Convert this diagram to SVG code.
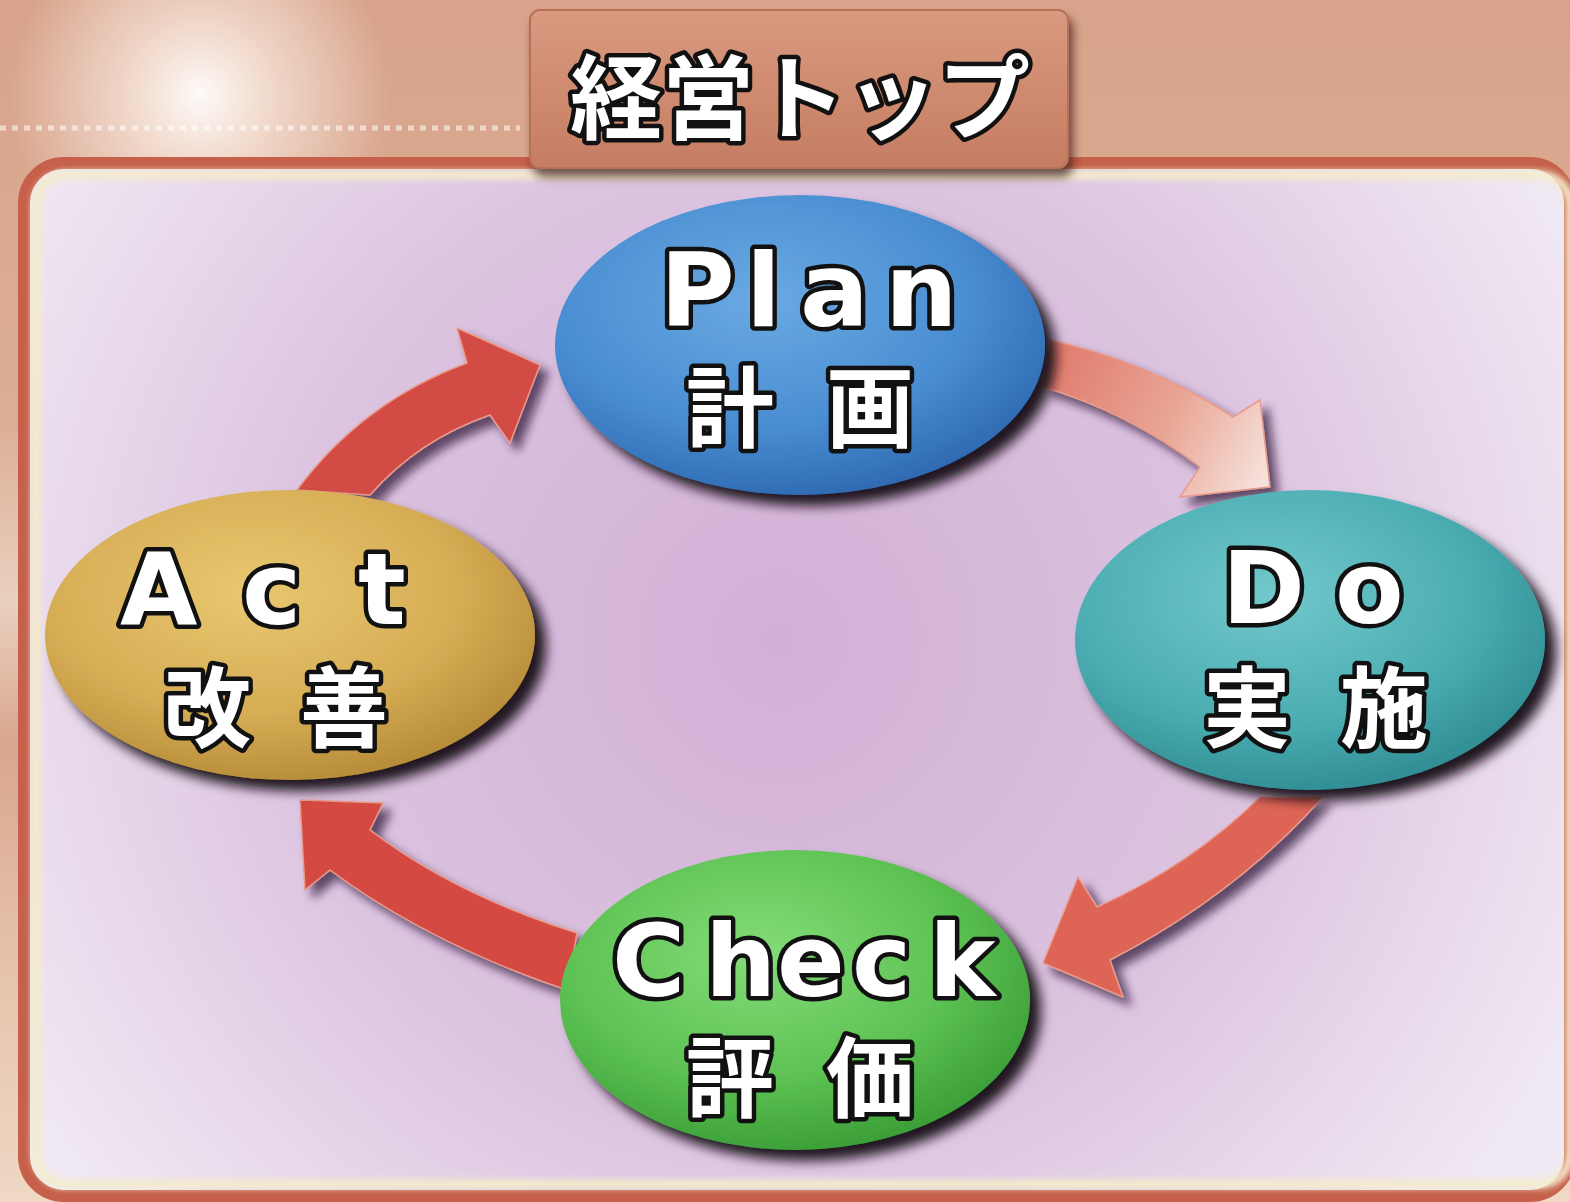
<svg xmlns="http://www.w3.org/2000/svg" width="1570" height="1202" viewBox="0 0 1570 1202">
<defs>
  <style>
    .lat { font-family: "DejaVu Sans", "Liberation Sans", Arial, sans-serif; font-weight: bold; fill: #ffffff; stroke: #111111; stroke-width: 9; stroke-linejoin: round; paint-order: stroke; }
    .jp { font-family: "Noto Sans CJK JP", "Noto Sans CJK SC", sans-serif; font-weight: bold; fill: #ffffff; stroke: #111111; stroke-width: 9; stroke-linejoin: round; paint-order: stroke; }
    .arrow { stroke: #e89a8c; stroke-width: 1.5; stroke-linejoin: round; }
  </style>
  <linearGradient id="bgTop" x1="0" y1="0" x2="0" y2="1">
    <stop offset="0" stop-color="#d8a38a"/>
    <stop offset="0.35" stop-color="#dcae96"/>
    <stop offset="0.5" stop-color="#ead0bf"/>
    <stop offset="0.62" stop-color="#d9a68e"/>
    <stop offset="0.8" stop-color="#e6c2ab"/>
    <stop offset="1" stop-color="#efd8c4"/>
  </linearGradient>
  <radialGradient id="glow" cx="200" cy="95" r="190" gradientUnits="userSpaceOnUse">
    <stop offset="0" stop-color="#ffffff" stop-opacity="0.95"/>
    <stop offset="0.45" stop-color="#fff6ee" stop-opacity="0.55"/>
    <stop offset="1" stop-color="#ffffff" stop-opacity="0"/>
  </radialGradient>
  <linearGradient id="titleFill" x1="0" y1="0" x2="0" y2="1">
    <stop offset="0" stop-color="#d99a80"/>
    <stop offset="0.5" stop-color="#cf8b70"/>
    <stop offset="1" stop-color="#c57d63"/>
  </linearGradient>
  <radialGradient id="panelFill" cx="780" cy="640" r="900" gradientUnits="userSpaceOnUse">
    <stop offset="0" stop-color="#d2b0d6"/>
    <stop offset="0.55" stop-color="#dcc4e0"/>
    <stop offset="1" stop-color="#f1eaf4"/>
  </radialGradient>
  <radialGradient id="gPlan" cx="0.42" cy="0.35" r="0.7">
    <stop offset="0" stop-color="#6aa9e2"/>
    <stop offset="0.6" stop-color="#4a8ed2"/>
    <stop offset="1" stop-color="#2b66ae"/>
  </radialGradient>
  <radialGradient id="gDo" cx="0.42" cy="0.35" r="0.7">
    <stop offset="0" stop-color="#72c8cb"/>
    <stop offset="0.6" stop-color="#4caeb3"/>
    <stop offset="1" stop-color="#2c8a90"/>
  </radialGradient>
  <radialGradient id="gCheck" cx="0.42" cy="0.35" r="0.7">
    <stop offset="0" stop-color="#84dc78"/>
    <stop offset="0.6" stop-color="#5cc152"/>
    <stop offset="1" stop-color="#379a34"/>
  </radialGradient>
  <radialGradient id="gAct" cx="0.42" cy="0.35" r="0.7">
    <stop offset="0" stop-color="#e8c870"/>
    <stop offset="0.6" stop-color="#d6ad55"/>
    <stop offset="1" stop-color="#b38835"/>
  </radialGradient>
  <linearGradient id="gArrowPD" x1="1045" y1="360" x2="1270" y2="470" gradientUnits="userSpaceOnUse">
    <stop offset="0" stop-color="#e07a6c"/>
    <stop offset="0.55" stop-color="#e9a594"/>
    <stop offset="1" stop-color="#f6e2dc"/>
  </linearGradient>
  <filter id="shNode" x="-20%" y="-20%" width="150%" height="150%">
    <feDropShadow dx="11" dy="11" stdDeviation="6" flood-color="#140818" flood-opacity="0.95"/>
  </filter>
  <filter id="shArrow" x="-20%" y="-20%" width="150%" height="150%">
    <feDropShadow dx="8" dy="8" stdDeviation="5" flood-color="#2a1636" flood-opacity="0.7"/>
  </filter>
  <filter id="shTitle" x="-10%" y="-10%" width="120%" height="140%">
    <feDropShadow dx="4" dy="8" stdDeviation="5" flood-color="#3a1a10" flood-opacity="0.7"/>
  </filter>
  <filter id="blur4"><feGaussianBlur stdDeviation="3"/></filter>
</defs>

<!-- background -->
<rect x="0" y="0" width="1570" height="1202" fill="url(#bgTop)"/>
<rect x="0" y="0" width="600" height="220" fill="url(#glow)"/>
<line x1="0" y1="128" x2="520" y2="128" stroke="#ffffff" stroke-opacity="0.55" stroke-width="5" stroke-dasharray="6 6"/>
<line x1="1070" y1="95" x2="1570" y2="95" stroke="#f2dccd" stroke-opacity="0.6" stroke-width="6" filter="url(#blur4)"/>

<!-- panel -->
<g id="panel">
  <rect x="24" y="163" width="1546" height="1033" rx="40" fill="url(#panelFill)" stroke="#c6604a" stroke-width="12"/>
  <rect x="36" y="175" width="1534" height="1009" rx="30" fill="none" stroke="#f4eccb" stroke-width="9" filter="url(#blur4)"/>
</g>

<!-- title -->
<g id="title">
  <rect x="530" y="10" width="538" height="158" rx="10" fill="url(#titleFill)" stroke="#b87058" stroke-width="2" filter="url(#shTitle)"/>
  <text class="jp" x="800" y="132" font-size="92" text-anchor="middle" stroke-width="10">経営トップ</text>
</g>

<!-- connectors -->
<g id="connectors" filter="url(#shArrow)">
  <path id="act-plan" class="arrow" fill="#d34b45" d="M297,490 Q362,402 467,363 L457,328 L540,365 L510,443 L490,415 Q418,440 370,495 Z"/>
  <path id="plan-do" class="arrow" fill="url(#gArrowPD)" d="M1050,340 Q1150,362 1233,417 L1260,400 L1270,487 L1180,497 L1200,467 Q1128,412 1043,387 Z"/>
  <path id="do-check" class="arrow" fill="#de6556" d="M1323,797 Q1236,895 1110,960 L1123,997 L1043,963 L1078,877 L1097,907 Q1190,866 1260,797 Z"/>
  <path id="check-act" class="arrow" fill="#d44843" d="M577,933 Q455,895 370,830 L383,803 L300,800 L305,890 L330,870 Q430,944 567,990 Z"/>
</g>

<!-- nodes -->
<g id="node-plan">
  <ellipse cx="800" cy="345" rx="245" ry="150" fill="url(#gPlan)" filter="url(#shNode)"/>
  <text class="lat" x="660 746 800 885" y="326" font-size="102">Plan</text>
  <text class="jp" x="686 772 826" y="440" font-size="88">計 画</text>
</g>
<g id="node-do">
  <ellipse cx="1310" cy="640" rx="235" ry="150" fill="url(#gDo)" filter="url(#shNode)"/>
  <text class="lat" x="1222 1335" y="623" font-size="100">Do</text>
  <text class="jp" x="1203 1290 1340" y="740" font-size="88">実 施</text>
</g>
<g id="node-check">
  <ellipse cx="795" cy="1000" rx="235" ry="150" fill="url(#gCheck)" filter="url(#shNode)"/>
  <text class="lat" x="612 705 777 852 929" y="996" font-size="100">Check</text>
  <text class="jp" x="686 772 826" y="1110" font-size="88">評 価</text>
</g>
<g id="node-act">
  <ellipse cx="290" cy="635" rx="245" ry="145" fill="url(#gAct)" filter="url(#shNode)"/>
  <text class="lat" x="120 242 358" y="624" font-size="100">Act</text>
  <text class="jp" x="163 250 300" y="740" font-size="88">改 善</text>
</g>
</svg>
